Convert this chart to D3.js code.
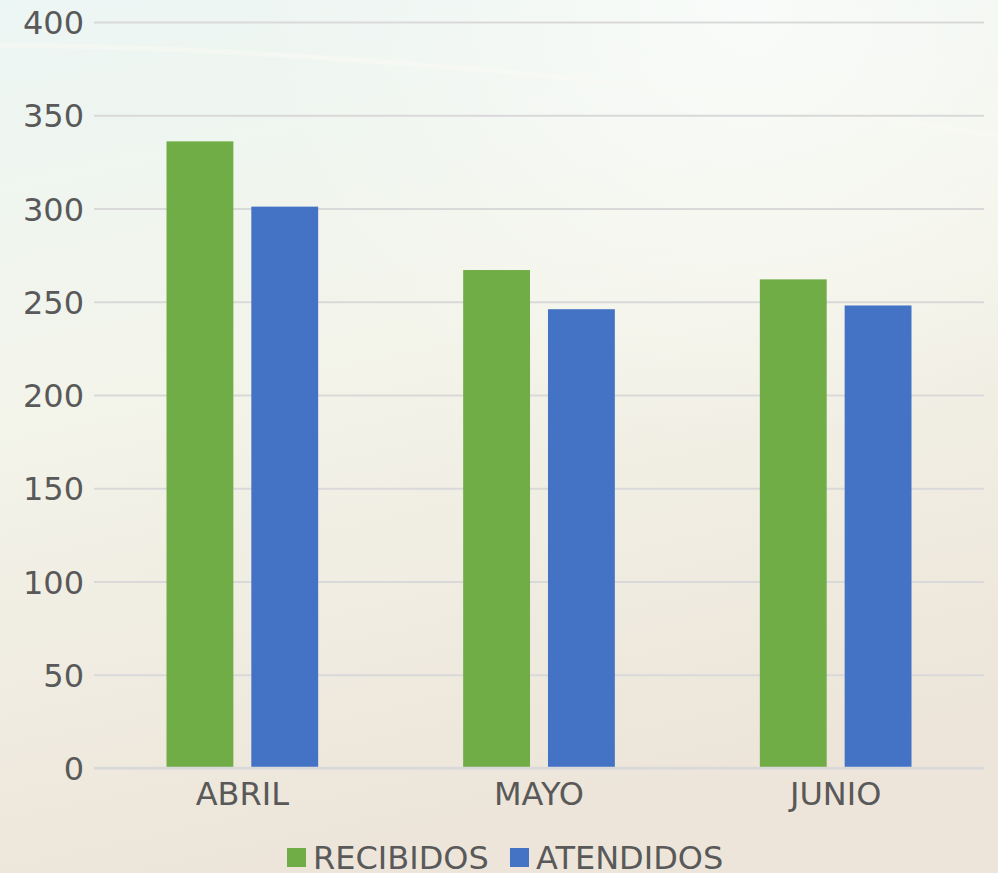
<!DOCTYPE html>
<html>
<head>
<meta charset="utf-8">
<script src="https://cdn.jsdelivr.net/npm/d3@7"></script>
<style>
  html, body { margin: 0; padding: 0; }
  body { width: 998px; height: 873px; overflow: hidden; }
</style>
</head>
<body>
<div id="chart"></div>
<script>
// data
var months = ["ABRIL", "MAYO", "JUNIO"];
var series = ["RECIBIDOS", "ATENDIDOS"];
var recibidos = [336, 267, 262];
var atendidos = [301, 246, 248];
var yTicks = [0, 50, 100, 150, 200, 250, 300, 350, 400];
var colors = ["#70AD47", "#4472C4"];

var width = 998;
var height = 873;
var margin = { top: 22, right: 14, bottom: 105, left: 94 };
var font = "'DejaVu Sans', sans-serif";
var textColor = "#595959";

var svg = d3.select("#chart")
    .append("svg")
    .attr("width", width)
    .attr("height", height);

/* ****** background ****** */
var defs = svg.append("defs");
var bg = defs.append("linearGradient")
    .attr("id", "bg")
    .attr("x1", 0).attr("y1", 0).attr("x2", 0.25).attr("y2", 1);
bg.append("stop").attr("offset", "0%").attr("stop-color", "#ecf6f4");
bg.append("stop").attr("offset", "45%").attr("stop-color", "#f3f4ea");
bg.append("stop").attr("offset", "100%").attr("stop-color", "#ede5d9");

var glow = defs.append("radialGradient")
    .attr("id", "glow")
    .attr("cx", 0.75).attr("cy", 0.02).attr("r", 0.5);
glow.append("stop").attr("offset", "0%").attr("stop-color", "#ffffff").attr("stop-opacity", 0.6);
glow.append("stop").attr("offset", "100%").attr("stop-color", "#ffffff").attr("stop-opacity", 0);

svg.append("rect").attr("width", width).attr("height", height).attr("fill", "url(#bg)");
svg.append("rect").attr("width", width).attr("height", height).attr("fill", "url(#glow)");

// faint swoosh
svg.append("path")
    .attr("d", "M0,45 C300,48 650,78 998,136")
    .attr("fill", "none")
    .attr("stroke", "#fafaf4")
    .attr("stroke-width", 5)
    .attr("opacity", 0.55);

var g = svg.append("g")
    .attr("transform", "translate(" + margin.left + "," + margin.top + ")");

var innerW = width - margin.left - margin.right;
var innerH = 768 - margin.top;

/* ****** scales ****** */
var x0 = d3.scaleBand()
    .domain(months)
    .range([0, innerW]);

var x1 = d3.scaleBand()
    .domain(series)
    .range([72.5, x0.bandwidth() - 72.5])
    .paddingInner(18 / 85);

var y = d3.scaleLinear()
    .domain([0, 400])
    .range([innerH, 0]);

/* ****** grid ****** */
var yAxis = d3.axisLeft(y)
    .tickValues(yTicks)
    .tickSize(-innerW)
    .tickPadding(10);

var gy = g.append("g").call(yAxis);
gy.select(".domain").remove();
gy.selectAll(".tick line")
    .attr("stroke", "#d9d9d9")
    .attr("stroke-width", 2);
gy.selectAll(".tick text")
    .attr("fill", textColor)
    .attr("font-family", font)
    .attr("font-size", 32)
    .attr("dy", "0.36em");

/* ****** bars ****** */
var rows = months.map(function (m, i) {
    return { month: m, values: [recibidos[i], atendidos[i]] };
});

var groups = g.selectAll(".grp")
    .data(rows)
    .enter().append("g")
    .attr("class", "grp")
    .attr("transform", function (d) { return "translate(" + x0(d.month) + ",0)"; });

groups.selectAll("rect")
    .data(function (d) {
        return series.map(function (s, j) { return { key: s, value: d.values[j], c: colors[j] }; });
    })
    .enter().append("rect")
    .attr("x", function (d) { return x1(d.key); })
    .attr("y", function (d) { return y(d.value); })
    .attr("width", x1.bandwidth())
    .attr("height", function (d) { return innerH - y(d.value); })
    .attr("fill", function (d) { return d.c; });

// baseline
g.append("line")
    .attr("x1", 0).attr("x2", innerW)
    .attr("y1", innerH).attr("y2", innerH)
    .attr("stroke", "#d9d9d9")
    .attr("stroke-width", 2.5);

/* ****** x axis ****** */
var xAxis = d3.axisBottom(x0).tickSize(0);
var gx = g.append("g")
    .attr("transform", "translate(0," + innerH + ")")
    .call(xAxis);
gx.select(".domain").remove();
gx.selectAll(".tick text")
    .attr("fill", textColor)
    .attr("font-family", font)
    .attr("font-size", 32)
    .attr("y", 37)
    .attr("dy", 0);

/* ****** legend ****** */
var legend = svg.append("g").attr("transform", "translate(0,869)");
var lx = [287, 510];
series.forEach(function (s, i) {
    legend.append("rect")
        .attr("x", lx[i]).attr("y", -21)
        .attr("width", 19).attr("height", 19)
        .attr("fill", colors[i]);
    legend.append("text")
        .attr("x", lx[i] + 26).attr("y", 0)
        .attr("fill", textColor)
        .attr("font-family", font)
        .attr("font-size", 32)
        .text(s);
});
</script>
</body>
</html>
